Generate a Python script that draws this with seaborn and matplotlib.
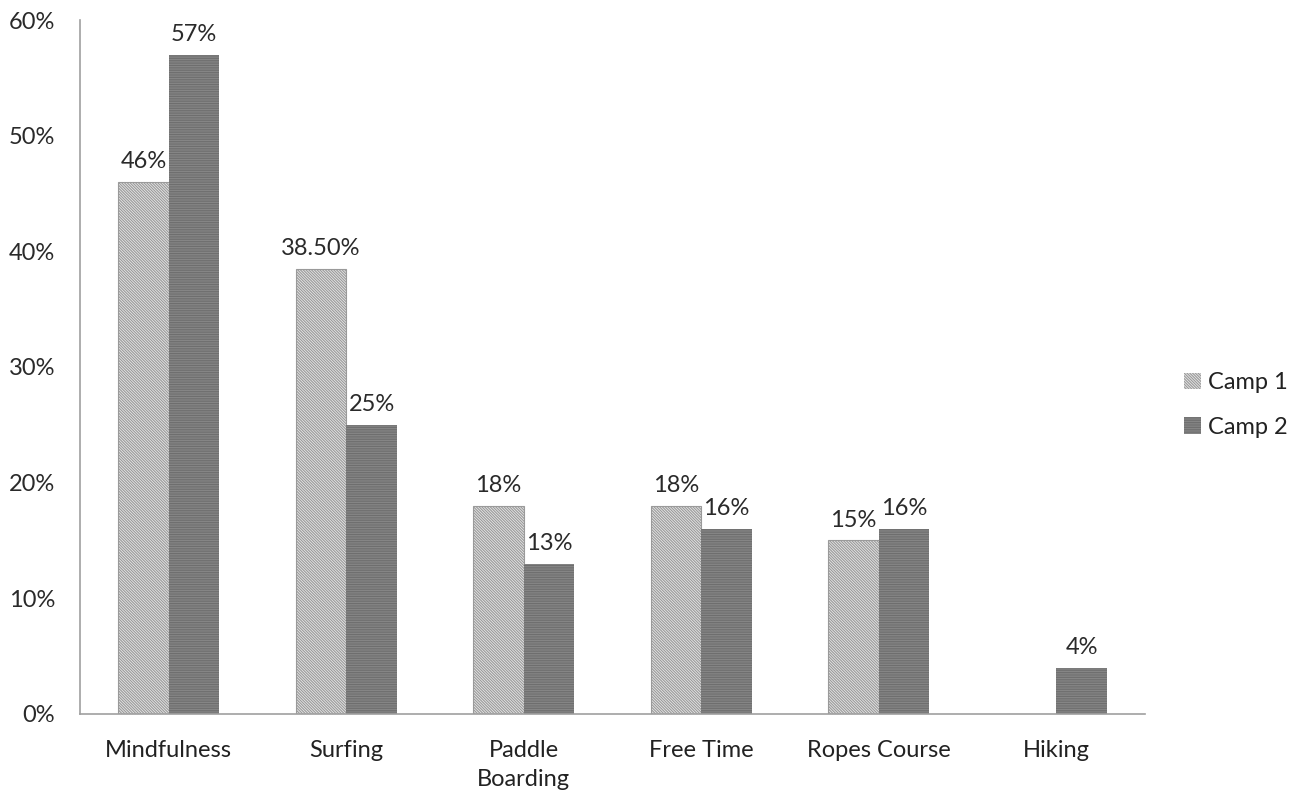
import matplotlib
matplotlib.use("Agg")
import matplotlib.pyplot as plt
import seaborn as sns
import pandas as pd
import numpy as np
from matplotlib.patches import Patch

# Survey results: share of campers naming each activity
activities = ["Mindfulness", "Surfing", "Paddle\nBoarding", "Free Time", "Ropes Course", "Hiking"]
camp1 = [46.0, 38.5, 18.0, 18.0, 15.0, 0.0]
camp2 = [57.0, 25.0, 13.0, 16.0, 16.0, 4.0]
camp1_labels = ["46%", "38.50%", "18%", "18%", "15%", ""]
camp2_labels = ["57%", "25%", "13%", "16%", "16%", "4%"]
series = ["Camp 1", "Camp 2"]
y_ticks = [0, 10, 20, 30, 40, 50, 60]

sns.set_theme(style="white")
plt.rcParams["font.family"] = ["Lato", "DejaVu Sans"]
plt.rcParams["hatch.linewidth"] = 0.8

FS = 17

df = pd.DataFrame({
    "Activity": activities * 2,
    "Percent": camp1 + camp2,
    "Camp": [series[0]] * len(activities) + [series[1]] * len(activities),
})

fig = plt.figure(figsize=(12.98, 7.94), dpi=100)
ax = fig.add_axes([0.0616, 0.1008, 0.8205, 0.874])

face = {"Camp 1": "#e8e8e8", "Camp 2": "#858585"}
hatch_col = {"Camp 1": "#9a9a9a", "Camp 2": "#6e6e6e"}
hatches = {"Camp 1": "\\" * 12, "Camp 2": "-" * 7}
outline = {"Camp 1": 0.8, "Camp 2": 0}

sns.barplot(data=df, x="Activity", y="Percent", hue="Camp", order=activities,
            hue_order=series, palette=face, width=0.57, ax=ax, legend=False,
            saturation=1)

for container, name, labels in zip(ax.containers, series, [camp1_labels, camp2_labels]):
    for bar in container:
        bar.set_hatch(hatches[name])
        bar.set_edgecolor(hatch_col[name])
        bar.set_linewidth(outline[name])
    ax.bar_label(container, labels=labels, padding=7, fontsize=FS, color="#2a2a2a")

ax.set_xlim(-0.5, len(activities) - 0.5)
ax.set_ylim(0, 60)
ax.set_yticks(y_ticks)
ax.set_yticklabels([f"{t}%" for t in y_ticks])
ax.set_xlabel("")
ax.set_ylabel("")

# category separators as minor ticks on the x axis
ax.set_xticks(np.arange(-0.5, len(activities), 1.0), minor=True)
ax.tick_params(axis="x", which="major", length=0, pad=19, labelsize=FS, labelcolor="#222222")
ax.tick_params(axis="x", which="minor", length=6, color="#a0a0a0", width=1.2, direction="out")
ax.tick_params(axis="y", which="major", length=6, color="#a0a0a0", width=1.2, direction="out",
               labelsize=FS, labelcolor="#2a2a2a", pad=12)
for lbl in ax.get_xticklabels():
    lbl.set_linespacing(1.45)

for side in ["top", "right"]:
    ax.spines[side].set_visible(False)
for side in ["left", "bottom"]:
    ax.spines[side].set_color("#a0a0a0")
    ax.spines[side].set_linewidth(1.2)

handles = [Patch(facecolor=face[s], edgecolor=hatch_col[s], hatch=hatches[s], linewidth=0)
           for s in series]
fig.legend(handles, series, loc="center left", bbox_to_anchor=(0.896, 0.49),
           frameon=False, fontsize=FS, handlelength=0.7, handleheight=0.7,
           handletextpad=0.3, labelspacing=1.0, labelcolor="#222222")

fig.savefig("out.png", dpi=100, facecolor="white")
